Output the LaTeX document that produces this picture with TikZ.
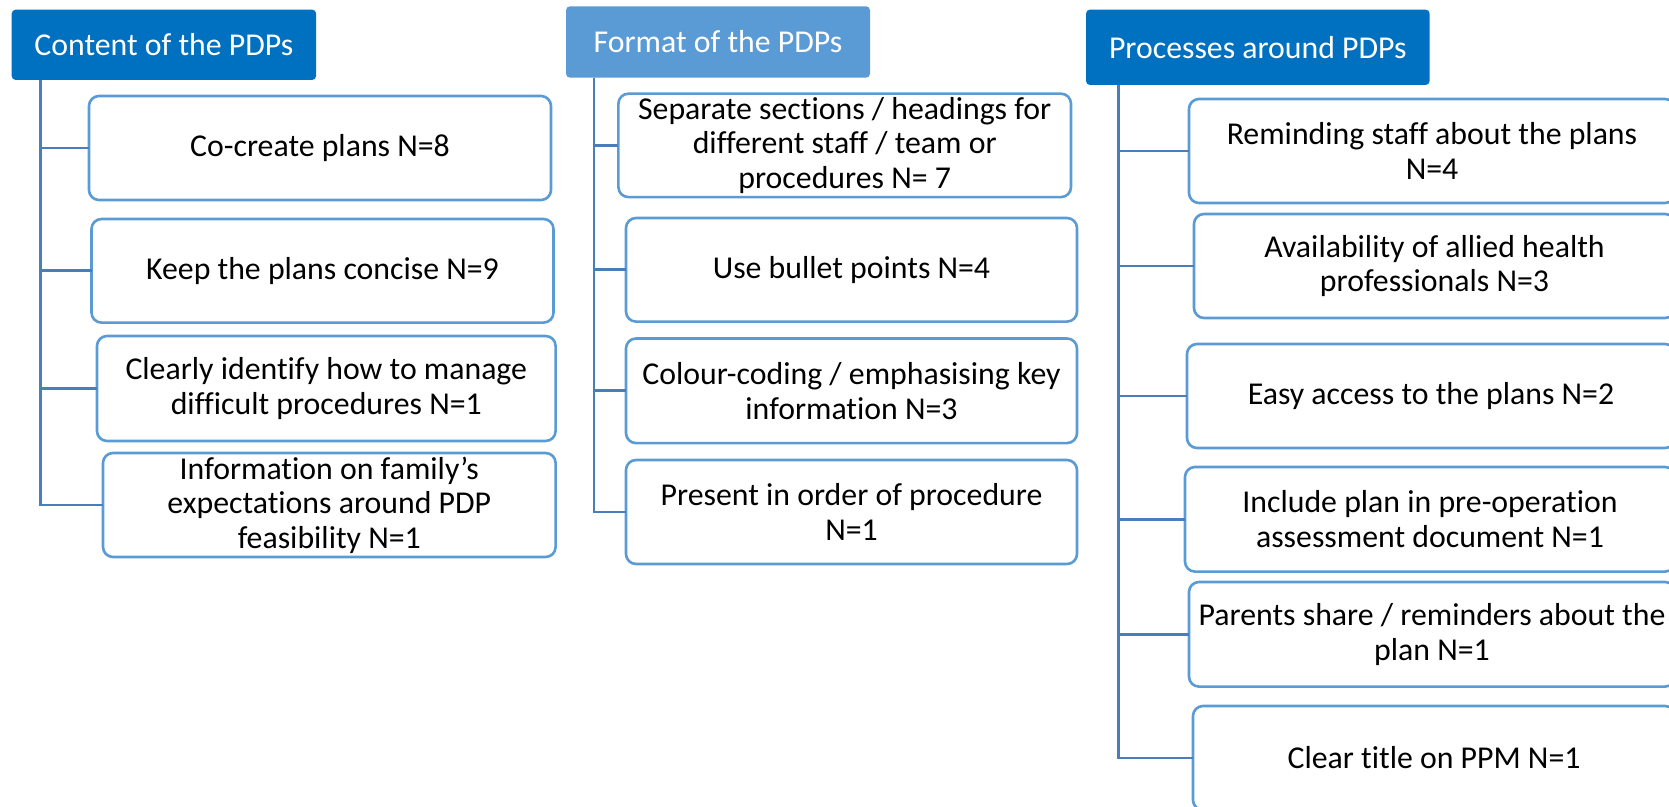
\documentclass[tikz,border=0pt]{standalone}
\usepackage{fontspec}
\setmainfont[Ligatures={NoCommon,NoContextual,NoRequired,NoRare}]{Carlito}
\definecolor{headdark}{HTML}{0070C0}
\definecolor{headlight}{HTML}{5B9BD5}
\definecolor{boxline}{HTML}{5B9BD5}
\definecolor{treeline}{RGB}{74,126,187}
\tikzset{
  head/.style={rounded corners=2pt, inner sep=0pt, outer sep=0pt, text=white,
    font=\fontsize{15.9}{17.3}\selectfont},
  itembox/.style={draw=boxline, line width=1.3pt, rounded corners=5pt, fill=white,
    inner sep=0pt, outer sep=0pt, align=center, text=black,
    font=\fontsize{15.9}{17.3}\selectfont},
  branch/.style={draw=treeline, line width=1.4pt}
}
\begin{document}
\begin{tikzpicture}[x=0.5pt, y=-0.5pt]
\useasboundingbox (0,0) rectangle (1669,807);
\clip (0,0) rectangle (1669,807);
\fill[white] (0,0) rectangle (1669,807);

% column headers
\node[head, fill=headdark, minimum width=152.2pt, minimum height=35.2pt] (h1) at (163.9,44.8) {Content of the PDPs};
\node[head, fill=headlight, minimum width=152pt, minimum height=35.7pt] (h2) at (718,42) {Format of the PDPs};
\node[head, fill=headdark, minimum width=171.8pt, minimum height=37.7pt] (h3) at (1257.8,47.3) {Processes around PDPs};

% trunk tops under each header
\coordinate (t1) at (40.4,80);
\coordinate (t2) at (594,77.7);
\coordinate (t3) at (1118.7,85);

% content of the PDPs (\kern0pt keeps "t" and "i" as separate glyphs)
\node[itembox, minimum width=231pt, minimum height=52pt] (b11) at (320,148) {Co-create plans N=8};
\node[itembox, minimum width=231pt, minimum height=51.8pt] (b12) at (322.5,270.8) {Keep the plans concise N=9};
\node[itembox, minimum width=229.3pt, minimum height=52.5pt] (b13) at (326.3,388.5) {Clearly identify how to manage\\difficult procedures N=1};
\node[itembox, minimum width=226.3pt, minimum height=52pt] (b14) at (329.3,505) {Informat\kern0pt ion on family’s\\expectat\kern0pt ions around PDP\\feasibility N=1};

% format of the PDPs
\node[itembox, minimum width=226.3pt, minimum height=51.7pt] (b21) at (844.7,145.4) {Separate sections / headings for\\different staff / team or\\procedures N= 7};
\node[itembox, minimum width=225.5pt, minimum height=51.8pt] (b22) at (851.5,269.8) {Use bullet points N=4};
\node[itembox, minimum width=225.5pt, minimum height=52.3pt] (b23) at (851.5,390.8) {Colour-coding / emphasising key\\informat\kern0pt ion N=3};
\node[itembox, minimum width=225.5pt, minimum height=52pt] (b24) at (851.5,512) {Present in order of procedure\\N=1};

% processes around PDPs
\node[itembox, minimum width=243pt, minimum height=52pt] (b31) at (1432,151) {Reminding staff about the plans\\N=4};
\node[itembox, minimum width=240.5pt, minimum height=52pt] (b32) at (1434.5,266) {Availability of allied health\\professionals N=3};
\node[itembox, minimum width=244pt, minimum height=52pt] (b33) at (1431,396) {Easy access to the plans N=2};
\node[itembox, minimum width=245pt, minimum height=52.3pt] (b34) at (1430,519.3) {Include plan in pre-operat\kern0pt ion\\assessment document N=1};
\node[itembox, minimum width=243pt, minimum height=52.3pt] (b35) at (1432,634.3) {Parents share / reminders about the\\plan N=1};
\node[itembox, minimum width=241pt, minimum height=52pt] (b36) at (1434,758) {Clear title on PPM N=1};

% connectors from each trunk to its items
\foreach \b in {b11,b12,b13,b14} \draw[branch] (t1) |- (\b.west);
\foreach \b in {b21,b22,b23,b24} \draw[branch] (t2) |- (\b.west);
\foreach \b in {b31,b32,b33,b34,b35,b36} \draw[branch] (t3) |- (\b.west);
\end{tikzpicture}
\end{document}
